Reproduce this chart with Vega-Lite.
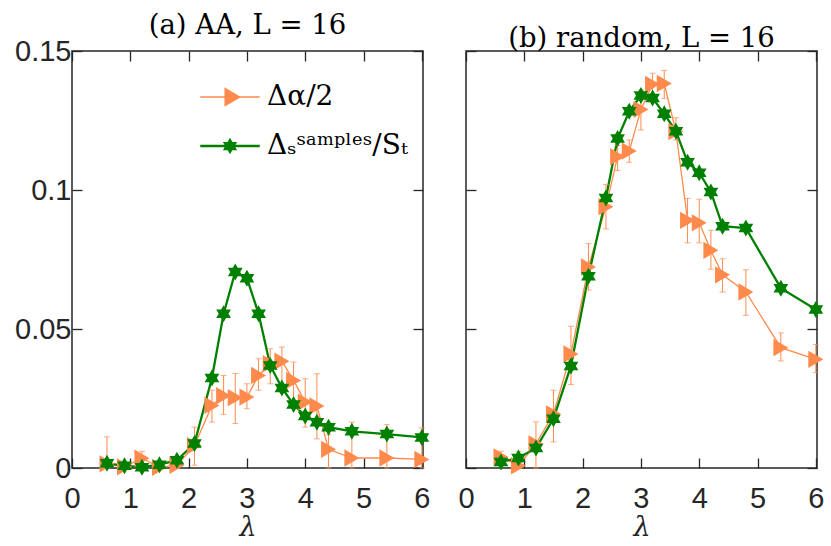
{
  "$schema": "https://vega.github.io/schema/vega-lite/v6.json",
  "background": "white",
  "padding": {"left": 13, "top": 10, "right": 4, "bottom": 0},
  "datasets": {
    "aa": [
      {"series": "alpha", "lambda": 0.6, "value": 0.0015, "lo": 0, "hi": 0.0112},
      {"series": "alpha", "lambda": 0.9, "value": 0.0004, "lo": 0, "hi": 0.001},
      {"series": "alpha", "lambda": 1.2, "value": 0.0035, "lo": 0.001, "hi": 0.006},
      {"series": "alpha", "lambda": 1.5, "value": 0.0002, "lo": 0, "hi": 0.001},
      {"series": "alpha", "lambda": 1.8, "value": 0.001, "lo": 0, "hi": 0.002},
      {"series": "alpha", "lambda": 2.1, "value": 0.008, "lo": 0.001, "hi": 0.0147},
      {"series": "alpha", "lambda": 2.4, "value": 0.0225, "lo": 0.0165, "hi": 0.028},
      {"series": "alpha", "lambda": 2.6, "value": 0.026, "lo": 0.0193, "hi": 0.0333},
      {"series": "alpha", "lambda": 2.8, "value": 0.0253, "lo": 0.016, "hi": 0.034},
      {"series": "alpha", "lambda": 3.0, "value": 0.0255, "lo": 0.0213, "hi": 0.0303},
      {"series": "alpha", "lambda": 3.2, "value": 0.0333, "lo": 0.028, "hi": 0.0393},
      {"series": "alpha", "lambda": 3.4, "value": 0.0375, "lo": 0.0303, "hi": 0.0429},
      {"series": "alpha", "lambda": 3.6, "value": 0.0384, "lo": 0.0297, "hi": 0.0435},
      {"series": "alpha", "lambda": 3.8, "value": 0.0315, "lo": 0.0243, "hi": 0.0381},
      {"series": "alpha", "lambda": 4.0, "value": 0.0237, "lo": 0.0147, "hi": 0.0321},
      {"series": "alpha", "lambda": 4.2, "value": 0.0223, "lo": 0.0105, "hi": 0.0339},
      {"series": "alpha", "lambda": 4.4, "value": 0.0067, "lo": 0, "hi": 0.012},
      {"series": "alpha", "lambda": 4.8, "value": 0.0036, "lo": 0, "hi": 0.0165},
      {"series": "alpha", "lambda": 5.4, "value": 0.0036, "lo": 0, "hi": 0.0156},
      {"series": "alpha", "lambda": 6.0, "value": 0.0031, "lo": 0, "hi": 0.0144},
      {"series": "delta", "lambda": 0.6, "value": 0.0017},
      {"series": "delta", "lambda": 0.9, "value": 0.0008},
      {"series": "delta", "lambda": 1.2, "value": 0.0003},
      {"series": "delta", "lambda": 1.5, "value": 0.0012},
      {"series": "delta", "lambda": 1.8, "value": 0.0028},
      {"series": "delta", "lambda": 2.1, "value": 0.0088},
      {"series": "delta", "lambda": 2.4, "value": 0.0324},
      {"series": "delta", "lambda": 2.6, "value": 0.0555},
      {"series": "delta", "lambda": 2.8, "value": 0.0705},
      {"series": "delta", "lambda": 3.0, "value": 0.0683},
      {"series": "delta", "lambda": 3.2, "value": 0.0555},
      {"series": "delta", "lambda": 3.4, "value": 0.0369},
      {"series": "delta", "lambda": 3.6, "value": 0.0288},
      {"series": "delta", "lambda": 3.8, "value": 0.0228},
      {"series": "delta", "lambda": 4.0, "value": 0.0187},
      {"series": "delta", "lambda": 4.2, "value": 0.0165},
      {"series": "delta", "lambda": 4.4, "value": 0.0147},
      {"series": "delta", "lambda": 4.8, "value": 0.0132},
      {"series": "delta", "lambda": 5.4, "value": 0.0122},
      {"series": "delta", "lambda": 6.0, "value": 0.011}
    ],
    "random": [
      {"series": "alpha", "lambda": 0.6, "value": 0.004, "lo": 0.002, "hi": 0.006},
      {"series": "alpha", "lambda": 0.9, "value": 0.0008, "lo": 0, "hi": 0.006},
      {"series": "alpha", "lambda": 1.2, "value": 0.0087, "lo": 0, "hi": 0.0166},
      {"series": "alpha", "lambda": 1.5, "value": 0.0195, "lo": 0.0094, "hi": 0.028},
      {"series": "alpha", "lambda": 1.8, "value": 0.041, "lo": 0.03, "hi": 0.051},
      {"series": "alpha", "lambda": 2.1, "value": 0.0723, "lo": 0.064, "hi": 0.0807},
      {"series": "alpha", "lambda": 2.4, "value": 0.094, "lo": 0.086, "hi": 0.102},
      {"series": "alpha", "lambda": 2.6, "value": 0.112, "lo": 0.107, "hi": 0.116},
      {"series": "alpha", "lambda": 2.8, "value": 0.114, "lo": 0.11, "hi": 0.118},
      {"series": "alpha", "lambda": 3.0, "value": 0.129, "lo": 0.1216, "hi": 0.136},
      {"series": "alpha", "lambda": 3.2, "value": 0.138, "lo": 0.134, "hi": 0.142},
      {"series": "alpha", "lambda": 3.4, "value": 0.1383, "lo": 0.133, "hi": 0.143},
      {"series": "alpha", "lambda": 3.6, "value": 0.121, "lo": 0.118, "hi": 0.126},
      {"series": "alpha", "lambda": 3.8, "value": 0.0891, "lo": 0.081, "hi": 0.097},
      {"series": "alpha", "lambda": 4.0, "value": 0.0882, "lo": 0.081, "hi": 0.0967},
      {"series": "alpha", "lambda": 4.2, "value": 0.0783, "lo": 0.0715, "hi": 0.0855},
      {"series": "alpha", "lambda": 4.4, "value": 0.0695, "lo": 0.0633, "hi": 0.0753},
      {"series": "alpha", "lambda": 4.8, "value": 0.0633, "lo": 0.0549, "hi": 0.0713},
      {"series": "alpha", "lambda": 5.4, "value": 0.0433, "lo": 0.0385, "hi": 0.0486},
      {"series": "alpha", "lambda": 6.0, "value": 0.0391, "lo": 0.0343, "hi": 0.0444},
      {"series": "delta", "lambda": 0.6, "value": 0.0022},
      {"series": "delta", "lambda": 0.9, "value": 0.0036},
      {"series": "delta", "lambda": 1.2, "value": 0.0072},
      {"series": "delta", "lambda": 1.5, "value": 0.0177},
      {"series": "delta", "lambda": 1.8, "value": 0.0367},
      {"series": "delta", "lambda": 2.1, "value": 0.069},
      {"series": "delta", "lambda": 2.4, "value": 0.0971},
      {"series": "delta", "lambda": 2.6, "value": 0.1185},
      {"series": "delta", "lambda": 2.8, "value": 0.1283},
      {"series": "delta", "lambda": 3.0, "value": 0.134},
      {"series": "delta", "lambda": 3.2, "value": 0.1331},
      {"series": "delta", "lambda": 3.4, "value": 0.1274},
      {"series": "delta", "lambda": 3.6, "value": 0.1211},
      {"series": "delta", "lambda": 3.8, "value": 0.11},
      {"series": "delta", "lambda": 4.0, "value": 0.1062},
      {"series": "delta", "lambda": 4.2, "value": 0.0993},
      {"series": "delta", "lambda": 4.4, "value": 0.087},
      {"series": "delta", "lambda": 4.8, "value": 0.0863},
      {"series": "delta", "lambda": 5.4, "value": 0.0647},
      {"series": "delta", "lambda": 6.0, "value": 0.057}
    ]
  },
  "spacing": 43,
  "bounds": "flush",
  "hconcat": [
    {
      "width": 351,
      "height": 417,
      "title": {"text": "(a) AA, L = 16"},
      "data": {"name": "aa"},
      "layer": [
        {
          "transform": [{"filter": "false"}],
          "mark": {"type": "point", "filled": true, "opacity": 1},
          "encoding": {
            "color": {"field": "series", "type": "nominal",
              "scale": {"domain": ["alpha", "delta"], "range": ["#FF8A4C", "#008000"]},
              "legend": {
                "orient": "none", "legendX": 144, "legendY": 32, "title": null, "padding": 0,
                "labelExpr": "datum.value == 'alpha' ? 'Δα/2' : 'Δₛˢᵃᵐᵖˡᵉˢ/Sₜ'",
                "labelFont": "DejaVu Serif", "labelFontSize": 28, "labelColor": "black",
                "labelOffset": 23, "labelLimit": 300, "symbolSize": 289, "rowPadding": 21,
                "symbolStrokeWidth": 1.5, "symbolOpacity": 1
              }
            },
            "stroke": {"field": "series", "type": "nominal",
              "scale": {"domain": ["alpha", "delta"], "range": ["#FFA070", "#008000"]}},
            "strokeWidth": {"field": "series", "type": "nominal"},
            "shape": {"field": "series", "type": "nominal",
              "scale": {"domain": ["alpha", "delta"], "range": [
                "M-3.5,0H3.5M1.155,0L-0.577,-1L-0.577,1Z",
                "M-3.5,0H3.5M0,-0.7L0.202,-0.35L0.606,-0.35L0.404,0L0.606,0.35L0.202,0.35L0,0.7L-0.202,0.35L-0.606,0.35L-0.404,0L-0.606,-0.35L-0.202,-0.35Z"
              ]}}
          }
        },
        {
          "mark": {"type": "line"},
          "encoding": {
            "x": {"field": "lambda", "type": "quantitative", "scale": {"domain": [0, 6.02], "nice": false},
              "axis": {"orient": "top", "labels": false, "title": null, "values": [0, 1, 2, 3, 4, 5, 6]}},
            "y": {"field": "value", "type": "quantitative", "scale": {"domain": [0, 0.15], "nice": false},
              "axis": {"orient": "right", "labels": false, "title": null, "values": [0, 0.05, 0.1, 0.15]}},
            "color": {"field": "series", "type": "nominal"},
            "strokeWidth": {"field": "series", "type": "nominal", "scale": {"domain": ["alpha", "delta"], "range": [1.3, 2.3]}}
          }
        },
        {
          "transform": [{"filter": "datum.series == 'alpha'"}],
          "mark": {"type": "errorbar", "ticks": {"size": 6}, "color": "#FF8A4C", "thickness": 1},
          "encoding": {
            "x": {"field": "lambda", "type": "quantitative", "axis": null},
            "y": {"field": "lo", "type": "quantitative", "axis": null},
            "y2": {"field": "hi"}
          }
        },
        {
          "transform": [{"filter": "datum.series == 'alpha'"}],
          "mark": {"type": "point", "filled": true, "opacity": 1, "size": 300, "strokeWidth": 0, "shape": "triangle-right"},
          "encoding": {
            "x": {"field": "lambda", "type": "quantitative", "axis": null},
            "y": {"field": "value", "type": "quantitative", "axis": null},
            "color": {"field": "series", "type": "nominal"}
          }
        },
        {
          "transform": [{"filter": "datum.series == 'delta'"}],
          "mark": {"type": "point", "filled": true, "opacity": 1, "size": 289, "strokeWidth": 0,
            "shape": "M0,-1L0.289,-0.5L0.866,-0.5L0.577,0L0.866,0.5L0.289,0.5L0,1L-0.289,0.5L-0.866,0.5L-0.577,0L-0.866,-0.5L-0.289,-0.5Z"},
          "encoding": {
            "x": {"field": "lambda", "type": "quantitative", "title": "λ",
              "axis": {"orient": "bottom", "values": [0, 1, 2, 3, 4, 5, 6]}},
            "y": {"field": "value", "type": "quantitative", "title": null,
              "axis": {"orient": "left", "values": [0, 0.05, 0.1, 0.15], "format": ".2~f"}},
            "color": {"field": "series", "type": "nominal"}
          }
        }
      ],
      "resolve": {"axis": {"x": "independent", "y": "independent"}}
    },
    {
      "width": 351,
      "height": 417,
      "title": {"text": "(b) random, L = 16"},
      "data": {"name": "random"},
      "layer": [
        {
          "mark": {"type": "line"},
          "encoding": {
            "x": {"field": "lambda", "type": "quantitative", "scale": {"domain": [0, 6.02], "nice": false},
              "axis": {"orient": "top", "labels": false, "title": null, "values": [0, 1, 2, 3, 4, 5, 6]}},
            "y": {"field": "value", "type": "quantitative", "scale": {"domain": [0, 0.15], "nice": false},
              "axis": {"orient": "right", "labels": false, "title": null, "values": [0, 0.05, 0.1, 0.15]}},
            "color": {"field": "series", "type": "nominal", "scale": {"domain": ["alpha", "delta"], "range": ["#FF8A4C", "#008000"]}, "legend": null},
            "strokeWidth": {"field": "series", "type": "nominal", "scale": {"domain": ["alpha", "delta"], "range": [1.3, 2.3]}, "legend": null}
          }
        },
        {
          "transform": [{"filter": "datum.series == 'alpha'"}],
          "mark": {"type": "errorbar", "ticks": {"size": 6}, "color": "#FF8A4C", "thickness": 1},
          "encoding": {
            "x": {"field": "lambda", "type": "quantitative", "axis": null},
            "y": {"field": "lo", "type": "quantitative", "axis": null},
            "y2": {"field": "hi"}
          }
        },
        {
          "transform": [{"filter": "datum.series == 'alpha'"}],
          "mark": {"type": "point", "filled": true, "opacity": 1, "size": 300, "strokeWidth": 0, "shape": "triangle-right"},
          "encoding": {
            "x": {"field": "lambda", "type": "quantitative", "axis": null},
            "y": {"field": "value", "type": "quantitative", "axis": null},
            "color": {"field": "series", "type": "nominal", "legend": null}
          }
        },
        {
          "transform": [{"filter": "datum.series == 'delta'"}],
          "mark": {"type": "point", "filled": true, "opacity": 1, "size": 289, "strokeWidth": 0,
            "shape": "M0,-1L0.289,-0.5L0.866,-0.5L0.577,0L0.866,0.5L0.289,0.5L0,1L-0.289,0.5L-0.866,0.5L-0.577,0L-0.866,-0.5L-0.289,-0.5Z"},
          "encoding": {
            "x": {"field": "lambda", "type": "quantitative", "title": "λ",
              "axis": {"orient": "bottom", "values": [0, 1, 2, 3, 4, 5, 6]}},
            "y": {"field": "value", "type": "quantitative", "title": null,
              "axis": {"orient": "left", "labels": false, "values": [0, 0.05, 0.1, 0.15]}},
            "color": {"field": "series", "type": "nominal", "legend": null}
          }
        }
      ],
      "resolve": {"axis": {"x": "independent", "y": "independent"}}
    }
  ],
  "resolve": {"legend": {"color": "independent", "shape": "independent", "stroke": "independent", "strokeWidth": "independent"}},
  "config": {
    "view": {"stroke": "#262626", "strokeWidth": 1.5},
    "title": {"font": "DejaVu Serif", "fontSize": 27.5, "fontWeight": "normal", "color": "black", "offset": -2, "anchor": "middle"},
    "axis": {
      "domain": false, "grid": false, "ticks": true, "tickSize": -10, "tickColor": "#262626", "tickWidth": 1.3,
      "labelFont": "Liberation Sans", "labelFontSize": 29, "labelColor": "#262626", "labelPadding": 26,
      "labelFlush": false, "labelOverlap": false,
      "titleFont": "DejaVu Serif", "titleFontStyle": "italic", "titleFontWeight": "normal", "titleFontSize": 27,
      "titleColor": "#262626", "titlePadding": 1
    },
    "axisY": {"labelPadding": 11}
  }
}
